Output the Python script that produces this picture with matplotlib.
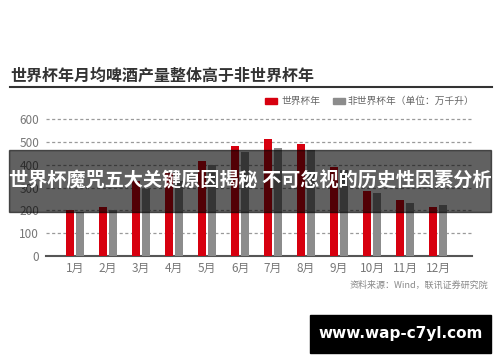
import numpy as np
import matplotlib
matplotlib.use("Agg")
import matplotlib.pyplot as plt
from matplotlib.patches import Rectangle

plt.rcParams['font.family'] = ['Noto Sans CJK SC', 'DejaVu Sans']

months = ['1月', '2月', '3月', '4月', '5月', '6月', '7月', '8月', '9月', '10月', '11月', '12月']
wc_year = [203, 213, 330, 365, 418, 481, 511, 489, 392, 286, 246, 216]
non_wc_year = [194, 203, 295, 330, 400, 454, 474, 466, 376, 274, 230, 225]
yticks = [0, 100, 200, 300, 400, 500, 600]

red = '#d7000f'
gray = '#8c8c8c'

fig = plt.figure(figsize=(5, 3.62), dpi=100)
ax = fig.add_axes([0.092, 0.293, 0.852, 0.378])

x = np.arange(len(months))
w = 0.25
ax.bar(x - 0.16, wc_year, width=w, color=red, zorder=3)
ax.bar(x + 0.16, non_wc_year, width=w, color=gray, zorder=3)

ax.set_xlim(-0.88, 12.03)
ax.set_ylim(0, 600)
ax.set_yticks(yticks)
ax.set_xticks(x)
ax.set_xticklabels(months)
for y in yticks[1:]:
    ax.axhline(y, color='#9a9a9a', lw=0.9, ls=(0, (2.5, 2)), zorder=1, clip_on=False)
for s in ['top', 'right', 'left']:
    ax.spines[s].set_visible(False)
ax.spines['bottom'].set_color('#555555')
ax.spines['bottom'].set_linewidth(1.5)
ax.tick_params(axis='both', length=0, colors='#777777', labelsize=8.5)
ax.tick_params(axis='y', pad=5)
ax.tick_params(axis='x', pad=4)

# title and rule
fig.text(0.02, 0.79, '世界杯年月均啤酒产量整体高于非世界杯年', fontsize=11.5,
         fontweight='bold', color='#333333', va='center')
fig.add_artist(plt.Line2D([0.02, 0.984], [0.76, 0.76], color='#333333', lw=1.5))

# legend
fig.add_artist(Rectangle((0.53, 0.713), 0.024, 0.016, color=red))
fig.text(0.562, 0.721, '世界杯年', fontsize=7, color='#666666', va='center')
fig.add_artist(Rectangle((0.666, 0.713), 0.024, 0.016, color=gray))
fig.text(0.696, 0.721, '非世界杯年（单位：万千升）', fontsize=7, color='#666666', va='center')

# source
fig.text(0.976, 0.213, '资料来源：Wind，联讯证券研究院', fontsize=6.5, color='#888888',
         ha='right', va='center')

# overlay band
fig.add_artist(Rectangle((0.018, 0.415), 0.964, 0.171, color='black', alpha=0.62, zorder=10))
fig.text(0.5, 0.5, '世界杯魔咒五大关键原因揭秘 不可忽视的历史性因素分析', fontsize=13.8,
         fontweight='bold', color='white', ha='center', va='center', zorder=11)

# watermark box
fig.add_artist(Rectangle((0.62, 0.026), 0.362, 0.104, color='black', zorder=10))
fig.text(0.801, 0.078, 'www.wap-c7yl.com', fontsize=11, fontweight='bold', color='white',
         ha='center', va='center', zorder=11, family='DejaVu Sans')

fig.savefig('out.png', dpi=100)
